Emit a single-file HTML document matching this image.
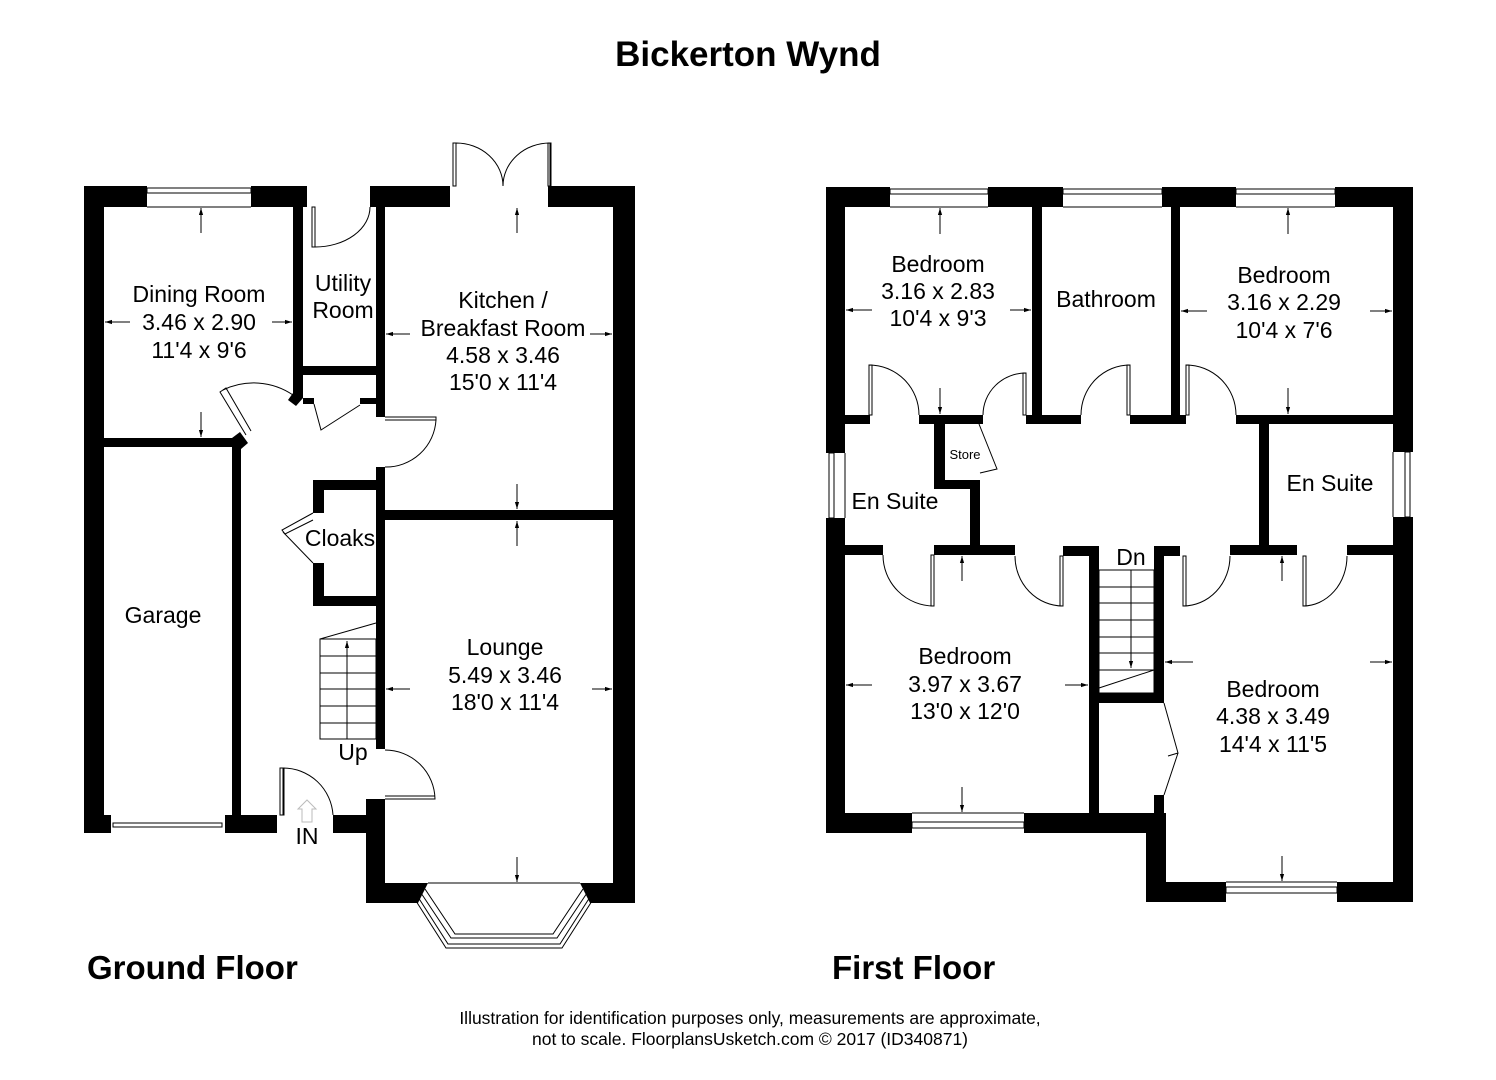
<!DOCTYPE html>
<html><head><meta charset="utf-8"><style>
html,body{margin:0;padding:0;background:#fff;}
svg{display:block;}
text{font-family:"Liberation Sans",Arial,sans-serif;fill:#000;}
.l{font-size:23px;text-anchor:middle;}
</style></head><body>
<svg width="1496" height="1080" viewBox="0 0 1496 1080" xmlns="http://www.w3.org/2000/svg">
<defs>
<marker id="a" viewBox="0 0 10 10" refX="10" refY="5" markerWidth="7" markerHeight="7" orient="auto"><path d="M0,2 L10,5 L0,8 z" fill="#000"/></marker>
</defs>
<rect width="1496" height="1080" fill="#fff"/>
<text x="748" y="66" font-size="35" font-weight="bold" text-anchor="middle">Bickerton Wynd</text>

<!-- ============ GROUND FLOOR ============ -->
<g fill="#000">
<rect x="84" y="186" width="63" height="21"/>
<rect x="251" y="186" width="56" height="21"/>
<rect x="370" y="186" width="80" height="21"/>
<rect x="548" y="186" width="87" height="21"/>
<rect x="84" y="186" width="20" height="647"/>
<rect x="613" y="186" width="22" height="717"/>
<rect x="293" y="207" width="10" height="188"/>
<polygon points="293,393 303,393 303,398 296,406 288,400"/>
<rect x="376" y="207" width="9" height="210"/>
<rect x="303" y="366" width="73" height="9"/>
<rect x="303" y="398" width="11" height="6"/>
<rect x="360" y="398" width="16" height="6"/>
<rect x="104" y="438" width="130" height="9"/>
<polygon points="232,438 240,432 248,443 241,449 241,447 232,447"/>
<rect x="232" y="447" width="9" height="368"/>
<rect x="376" y="467" width="9" height="282"/>
<rect x="385" y="510" width="228" height="10"/>
<rect x="313" y="480" width="63" height="10"/>
<rect x="313" y="480" width="11" height="33"/>
<rect x="313" y="563" width="11" height="43"/>
<rect x="313" y="596" width="63" height="10"/>
<rect x="84" y="815" width="27" height="18"/>
<rect x="225" y="815" width="52" height="18"/>
<rect x="333" y="815" width="52" height="18"/>
<rect x="366" y="799" width="19" height="104"/>
<polygon points="366,883 428,883 418,903 366,903"/>
<polygon points="580,883 635,883 635,903 590,903"/>
</g>
<g fill="none" stroke="#000" stroke-width="1">
<rect x="147" y="188" width="104" height="5"/><line x1="147" y1="207" x2="251" y2="207"/>
<rect x="113" y="823" width="109" height="4"/>
<line x1="428" y1="883" x2="580" y2="883"/>
<path d="M421,893 L451,938 L557,938 L587,893"/>
<path d="M425,889 L455,934 L553,934 L583,889"/>
<path d="M418,897 L448,944 L560,944 L590,897"/>
<path d="M416,901 L446,948 L562,948 L592,901"/>
<path d="M315,207 V247 A55,40 0 0 0 370,207"/><rect x="312" y="207" width="3" height="40"/>
<path d="M456,186 V143 A47,43 0 0 1 503,186"/><path d="M550,186 V143 A47,43 0 0 0 503,186"/>
<rect x="453" y="143" width="3" height="43"/><rect x="548" y="143" width="3" height="43"/>
<path d="M246,435 L220,392 L226,388 L251,431"/><path d="M223,390 A70,70 0 0 1 293,395"/>
<path d="M385,417 H436 V420 H385"/><path d="M436,420 A50,50 0 0 1 385,467"/>
<path d="M313,513 L282,530 L285,534 L313,520"/><path d="M283,532 L313,563"/>
<path d="M314,404 L321,430 L360,405"/>
<path d="M385,750 A50,50 0 0 1 435,799 H385 M385,796 H435"/>
<path d="M283,815 V768 A50,50 0 0 1 333,815"/><rect x="280" y="768" width="4" height="47"/>
<rect x="320" y="639" width="56" height="100"/>
<line x1="320" y1="656" x2="376" y2="656"/><line x1="320" y1="673" x2="376" y2="673"/>
<line x1="320" y1="689" x2="376" y2="689"/><line x1="320" y1="706" x2="376" y2="706"/>
<line x1="320" y1="723" x2="376" y2="723"/>
<line x1="320" y1="639" x2="376" y2="623"/>
<line x1="347" y1="739" x2="347" y2="641" marker-end="url(#a)"/>
<path d="M302,822 V809 H298 L307,800 L316,809 H312 V822 Z" stroke="#bbb"/>
<line x1="130" y1="322" x2="105" y2="322" marker-end="url(#a)"/>
<line x1="272" y1="322" x2="292" y2="322" marker-end="url(#a)"/>
<line x1="201" y1="233" x2="201" y2="208" marker-end="url(#a)"/>
<line x1="201" y1="412" x2="201" y2="437" marker-end="url(#a)"/>
<line x1="410" y1="334" x2="386" y2="334" marker-end="url(#a)"/>
<line x1="590" y1="334" x2="612" y2="334" marker-end="url(#a)"/>
<line x1="517" y1="233" x2="517" y2="208" marker-end="url(#a)"/>
<line x1="517" y1="484" x2="517" y2="509" marker-end="url(#a)"/>
<line x1="517" y1="546" x2="517" y2="521" marker-end="url(#a)"/>
<line x1="410" y1="689" x2="386" y2="689" marker-end="url(#a)"/>
<line x1="592" y1="689" x2="612" y2="689" marker-end="url(#a)"/>
<line x1="517" y1="857" x2="517" y2="882" marker-end="url(#a)"/>
</g>
<text class="l" x="199" y="302">Dining Room</text>
<text class="l" x="199" y="330">3.46 x 2.90</text>
<text class="l" x="199" y="358">11'4 x 9'6</text>
<text class="l" x="343" y="291">Utility</text>
<text class="l" x="343" y="318">Room</text>
<text class="l" x="503" y="308">Kitchen /</text>
<text class="l" x="503" y="336">Breakfast Room</text>
<text class="l" x="503" y="363">4.58 x 3.46</text>
<text class="l" x="503" y="390">15'0 x 11'4</text>
<text class="l" x="340" y="546">Cloaks</text>
<text class="l" x="163" y="623">Garage</text>
<text class="l" x="505" y="655">Lounge</text>
<text class="l" x="505" y="683">5.49 x 3.46</text>
<text class="l" x="505" y="710">18'0 x 11'4</text>
<text class="l" x="353" y="760">Up</text>
<text class="l" x="307" y="844">IN</text>
<text x="87" y="979" font-size="33" font-weight="bold">Ground Floor</text>

<!-- ============ FIRST FLOOR ============ -->
<g fill="#000">
<rect x="826" y="187" width="64" height="20"/>
<rect x="988" y="187" width="75" height="20"/>
<rect x="1162" y="187" width="74" height="20"/>
<rect x="1335" y="187" width="78" height="20"/>
<rect x="826" y="187" width="19" height="266"/>
<rect x="826" y="518" width="19" height="315"/>
<rect x="1393" y="187" width="20" height="265"/>
<rect x="1393" y="517" width="20" height="385"/>
<rect x="1032" y="207" width="10" height="217"/>
<rect x="1171" y="207" width="9" height="217"/>
<rect x="845" y="415" width="25" height="9"/>
<rect x="919" y="415" width="64" height="9"/>
<rect x="1026" y="415" width="55" height="9"/>
<rect x="1130" y="415" width="56" height="9"/>
<rect x="1236" y="415" width="157" height="9"/>
<rect x="934" y="424" width="11" height="65"/>
<rect x="934" y="480" width="45" height="9"/>
<rect x="970" y="480" width="10" height="75"/>
<rect x="845" y="545" width="38" height="10"/>
<rect x="934" y="545" width="81" height="10"/>
<rect x="1259" y="424" width="10" height="121"/>
<rect x="1230" y="545" width="67" height="10"/>
<rect x="1347" y="545" width="46" height="10"/>
<rect x="1063" y="546" width="36" height="10"/>
<rect x="1089" y="546" width="10" height="287"/>
<rect x="1154" y="546" width="26" height="10"/>
<rect x="1154" y="546" width="10" height="157"/>
<rect x="1089" y="693" width="75" height="10"/>
<rect x="1154" y="795" width="10" height="18"/>
<rect x="826" y="813" width="86" height="20"/>
<rect x="1024" y="813" width="140" height="20"/>
<rect x="1146" y="813" width="20" height="89"/>
<rect x="1146" y="882" width="80" height="20"/>
<rect x="1337" y="882" width="76" height="20"/>
</g>
<g fill="none" stroke="#000" stroke-width="1">
<rect x="890" y="189" width="98" height="5"/><line x1="890" y1="207" x2="988" y2="207"/>
<rect x="1063" y="189" width="99" height="5"/><line x1="1063" y1="207" x2="1162" y2="207"/>
<rect x="1236" y="189" width="99" height="5"/><line x1="1236" y1="207" x2="1335" y2="207"/>
<rect x="829" y="453" width="5" height="65"/><line x1="845" y1="453" x2="845" y2="518"/>
<rect x="1405" y="452" width="5" height="65"/><line x1="1393" y1="452" x2="1393" y2="517"/>
<rect x="912" y="822" width="112" height="6"/><line x1="912" y1="813" x2="1024" y2="813"/>
<rect x="1226" y="887" width="111" height="6"/><line x1="1226" y1="882" x2="1337" y2="882"/>
<path d="M869,415 V365 A50,50 0 0 1 919,415"/><rect x="869" y="365" width="3" height="50"/>
<path d="M1026,415 V373 A43,42 0 0 0 983,415"/><rect x="1023" y="373" width="3" height="42"/>
<path d="M1130,415 V365 A49,50 0 0 0 1081,415"/><rect x="1127" y="365" width="3" height="50"/>
<path d="M1186,415 V365 A50,50 0 0 1 1236,415"/><rect x="1186" y="365" width="3" height="50"/>
<path d="M934,555 V606 A51,51 0 0 1 883,555"/><rect x="931" y="555" width="3" height="51"/>
<path d="M1063,556 V606 A48,50 0 0 1 1015,556"/><rect x="1060" y="556" width="3" height="50"/>
<path d="M1183,556 V606 A47,50 0 0 0 1230,556"/><rect x="1183" y="556" width="3" height="50"/>
<path d="M1303,556 V606 A44,50 0 0 0 1347,556"/><rect x="1303" y="556" width="3" height="50"/>
<path d="M1164,703 L1178,753 L1168,756 M1178,753 L1164,795"/>
<path d="M979,424 L997,469 L980,473"/>
<rect x="1099" y="570" width="55" height="123"/>
<line x1="1099" y1="587" x2="1154" y2="587"/><line x1="1099" y1="603" x2="1154" y2="603"/>
<line x1="1099" y1="620" x2="1154" y2="620"/><line x1="1099" y1="637" x2="1154" y2="637"/>
<line x1="1099" y1="653" x2="1154" y2="653"/><line x1="1099" y1="670" x2="1154" y2="670"/>
<line x1="1099" y1="688" x2="1154" y2="670"/>
<line x1="1131" y1="570" x2="1131" y2="668" marker-end="url(#a)"/>
<line x1="872" y1="310" x2="846" y2="310" marker-end="url(#a)"/>
<line x1="1010" y1="310" x2="1031" y2="310" marker-end="url(#a)"/>
<line x1="940" y1="234" x2="940" y2="208" marker-end="url(#a)"/>
<line x1="940" y1="388" x2="940" y2="414" marker-end="url(#a)"/>
<line x1="1207" y1="311" x2="1181" y2="311" marker-end="url(#a)"/>
<line x1="1370" y1="311" x2="1392" y2="311" marker-end="url(#a)"/>
<line x1="1288" y1="234" x2="1288" y2="208" marker-end="url(#a)"/>
<line x1="1288" y1="388" x2="1288" y2="414" marker-end="url(#a)"/>
<line x1="872" y1="685" x2="846" y2="685" marker-end="url(#a)"/>
<line x1="1065" y1="685" x2="1088" y2="685" marker-end="url(#a)"/>
<line x1="962" y1="581" x2="962" y2="556" marker-end="url(#a)"/>
<line x1="962" y1="787" x2="962" y2="812" marker-end="url(#a)"/>
<line x1="1193" y1="662" x2="1165" y2="662" marker-end="url(#a)"/>
<line x1="1370" y1="662" x2="1392" y2="662" marker-end="url(#a)"/>
<line x1="1282" y1="581" x2="1282" y2="556" marker-end="url(#a)"/>
<line x1="1282" y1="856" x2="1282" y2="881" marker-end="url(#a)"/>
</g>
<text class="l" x="938" y="272">Bedroom</text>
<text class="l" x="938" y="299">3.16 x 2.83</text>
<text class="l" x="938" y="326">10'4 x 9'3</text>
<text class="l" x="1106" y="307">Bathroom</text>
<text class="l" x="1284" y="283">Bedroom</text>
<text class="l" x="1284" y="310">3.16 x 2.29</text>
<text class="l" x="1284" y="338">10'4 x 7'6</text>
<text class="l" x="895" y="509" font-size="21">En Suite</text>
<text x="965" y="459" font-size="13" text-anchor="middle">Store</text>
<text class="l" x="1330" y="491">En Suite</text>
<text class="l" x="1131" y="565">Dn</text>
<text class="l" x="965" y="664">Bedroom</text>
<text class="l" x="965" y="692">3.97 x 3.67</text>
<text class="l" x="965" y="719">13'0 x 12'0</text>
<text class="l" x="1273" y="697">Bedroom</text>
<text class="l" x="1273" y="724">4.38 x 3.49</text>
<text class="l" x="1273" y="752">14'4 x 11'5</text>
<text x="832" y="979" font-size="33" font-weight="bold">First Floor</text>

<text x="750" y="1024" font-size="17.5" text-anchor="middle">Illustration for identification purposes only, measurements are approximate,</text>
<text x="750" y="1045" font-size="17.5" text-anchor="middle">not to scale. FloorplansUsketch.com © 2017 (ID340871)</text>
</svg>
</body></html>
